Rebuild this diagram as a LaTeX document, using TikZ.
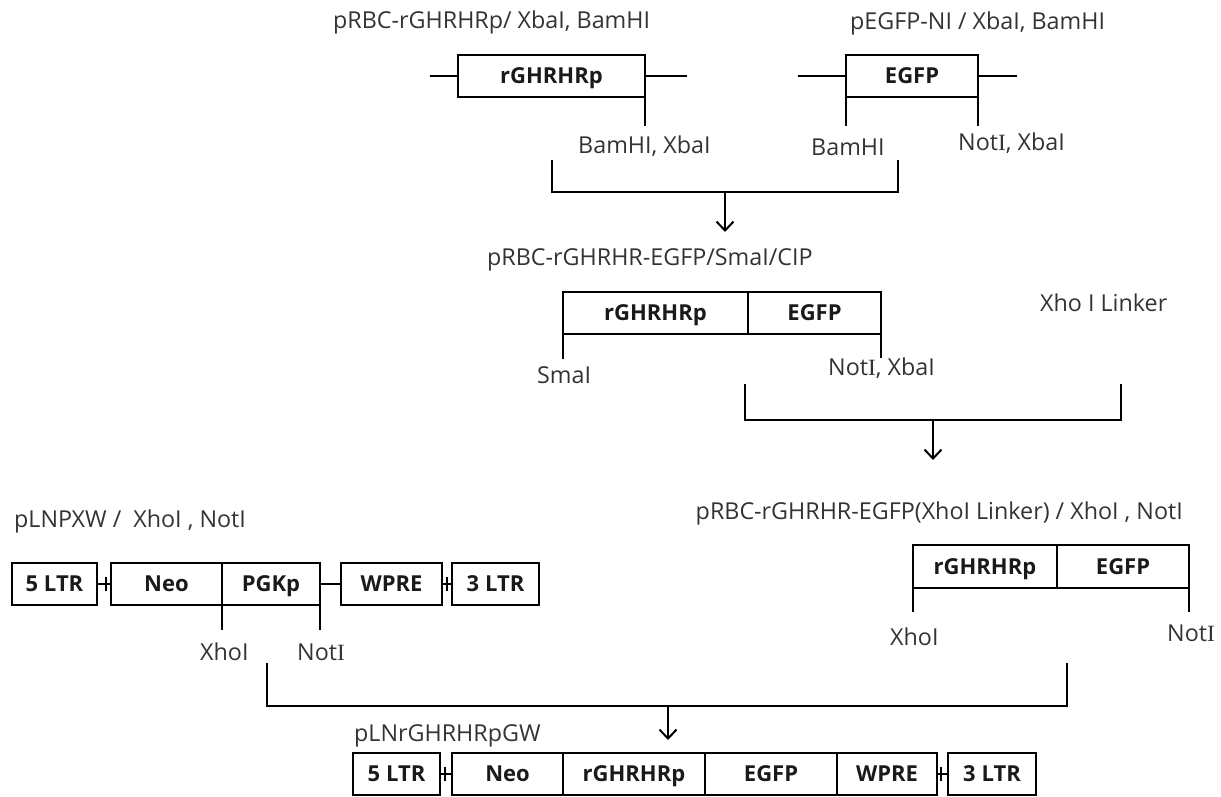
\documentclass[tikz,border=0pt]{standalone}
\usepackage{fontspec}
\setmainfont{Open Sans}
\newfontfamily\romanI{Liberation Serif}
\usetikzlibrary{arrows.meta}
\definecolor{labgray}{HTML}{333333}
\definecolor{segink}{HTML}{1A1A1A}
% NotI with the serifed capital I
\newcommand\NotSerifI{Not{\romanI I}}

\begin{document}
\begin{tikzpicture}[x=1pt,y=-1pt,
  seg/.style={draw, line width=2pt, minimum height=42pt, inner sep=0pt, outer sep=0pt,
    text height=15.5pt, text depth=0pt,
    font=\bfseries\fontsize{22}{22}\selectfont, text=segink},
  lab/.style={anchor=west, inner sep=0pt, font=\fontsize{23.3}{23.3}\selectfont, text=labgray},
  wire/.style={line width=2pt},
  arr/.style={line width=2pt, -{Straight Barb[length=9pt,width=17pt]}},
]
\useasboundingbox (0,0) rectangle (1221,797);

% ---- pRBC-rGHRHRp fragment
\node[lab] (t1) at (333,22) {pRBC-rGHRHRp/ XbaI, BamHI};
\node[seg, minimum width=187] (rg1) at (551.5,76) {rGHRHRp};
\coordinate (rg1l) at (430,76);
\coordinate (rg1r) at (687,76);
\draw[wire] (rg1l) -- (rg1.west);
\draw[wire] (rg1.east) -- (rg1r);
\coordinate (rg1s) at (645,126);
\draw[wire] (rg1.south east) -- (rg1s);
\node[lab] (s1) at (578,146) {BamHI, XbaI};

% ---- pEGFP-N1 fragment
\node[lab] (t2) at (850,23) {pEGFP-NI / XbaI, BamHI};
\node[seg, minimum width=132] (eg1) at (912,76) {EGFP};
\coordinate (eg1l) at (798,76);
\coordinate (eg1r) at (1017,76);
\draw[wire] (eg1l) -- (eg1.west);
\draw[wire] (eg1.east) -- (eg1r);
\coordinate (eg1sa) at (846,126);
\coordinate (eg1sb) at (978,126);
\draw[wire] (eg1.south west) -- (eg1sa);
\draw[wire] (eg1.south east) -- (eg1sb);
\node[lab] (s2) at (811,147) {BamHI};
\node[lab] (s3) at (958,143) {\NotSerifI, XbaI};

% ---- first ligation
\coordinate (b1a) at (552,160);
\coordinate (b1b) at (898,160);
\coordinate (b1m) at (725,192);
\coordinate (b1t) at (725,232);
\draw[wire] (b1a) |- (b1m) -| (b1b);
\draw[arr] (b1m) -- (b1t);

% ---- pRBC-rGHRHR-EGFP
\node[lab] (t3) at (487,260) {pRBC-rGHRHR-EGFP/SmaI/CIP};
\node[seg, minimum width=185] (rg2) at (655.5,313) {rGHRHRp};
\node[seg, minimum width=133] (eg2) at (814.5,313) {EGFP};
\coordinate (rg2s) at (563,359);
\coordinate (eg2s) at (881,358);
\draw[wire] (rg2.south west) -- (rg2s);
\draw[wire] (eg2.south east) -- (eg2s);
\node[lab] (s4) at (537,375) {SmaI};
\node[lab] (s5) at (828,368) {\NotSerifI, XbaI};
\node[lab] (lnk) at (1040,303) {Xho I Linker};

% ---- linker ligation
\coordinate (b2a) at (745,384);
\coordinate (b2b) at (1121,384);
\coordinate (b2m) at (933,420);
\coordinate (b2t) at (933,460);
\draw[wire] (b2a) |- (b2m) -| (b2b);
\draw[arr] (b2m) -- (b2t);

% ---- insert with XhoI linker
\node[lab, anchor=east] (t4) at (1183,513) {pRBC-rGHRHR-EGFP(XhoI Linker) / XhoI , NotI};
\node[seg, minimum width=144, minimum height=43] (rg3) at (985,566.5) {rGHRHRp};
\node[seg, minimum width=132, minimum height=43] (eg3) at (1123,566.5) {EGFP};
\coordinate (rg3s) at (913,612);
\coordinate (eg3s) at (1189,612);
\draw[wire] (rg3.south west) -- (rg3s);
\draw[wire] (eg3.south east) -- (eg3s);
\node[lab] (s6) at (890,637) {XhoI};
\node[lab] (s7) at (1167,633) {\NotSerifI};

% ---- pLNPXW vector
\node[lab] (t5) at (14,521) {pLNPXW /\ \ XhoI , NotI};
\begin{scope}[every node/.append style={minimum height=43}]
\node[seg, minimum width=85] (ltr5) at (54.5,583.5) {5 LTR};
\node[seg, minimum width=111] (neo) at (166.5,583.5) {Neo};
\node[seg, minimum width=98] (pgk) at (271,583.5) {PGKp};
\node[seg, minimum width=101] (wpre) at (391.5,583.5) {WPRE};
\node[seg, minimum width=87] (ltr3) at (495.5,583.5) {3 LTR};
\end{scope}
\draw[wire] (ltr5.east) -- (neo.west) coordinate[pos=0.65] (k1);
\draw[wire] ([yshift=-7pt]k1) -- ([yshift=7pt]k1);
\draw[wire] (pgk.east) -- (wpre.west);
\draw[wire] (wpre.east) -- (ltr3.west) coordinate[pos=0.45] (k2);
\draw[wire] ([yshift=-7pt]k2) -- ([yshift=7pt]k2);
\coordinate (neos) at (222,630);
\coordinate (pgks) at (320,630);
\draw[wire] (neo.south east) -- (neos);
\draw[wire] (pgk.south east) -- (pgks);
\node[lab] (s8) at (200,652) {XhoI};
\node[lab] (s9) at (297,652) {\NotSerifI};

% ---- final ligation
\coordinate (b3a) at (267,663);
\coordinate (b3b) at (1067,663);
\coordinate (b3m) at (668,706);
\coordinate (b3t) at (668,740);
\draw[wire] (b3a) |- (b3m) -| (b3b);
\draw[arr] (b3m) -- (b3t);

% ---- pLNrGHRHRpGW
\node[lab] (t6) at (354,736) {pLNrGHRHRpGW};
\node[seg, minimum width=87] (fl5) at (396.5,774) {5 LTR};
\node[seg, minimum width=111] (fneo) at (507.5,774) {Neo};
\node[seg, minimum width=142] (frg) at (634,774) {rGHRHRp};
\node[seg, minimum width=132] (feg) at (771,774) {EGFP};
\node[seg, minimum width=100] (fwp) at (887,774) {WPRE};
\node[seg, minimum width=88] (fl3) at (992,774) {3 LTR};
\draw[wire] (fl5.east) -- (fneo.west) coordinate[pos=0.4] (k3);
\draw[wire] ([yshift=-7pt]k3) -- ([yshift=7pt]k3);
\draw[wire] (fwp.east) -- (fl3.west) coordinate[pos=0.4] (k4);
\draw[wire] ([yshift=-7pt]k4) -- ([yshift=7pt]k4);
\end{tikzpicture}
\end{document}
